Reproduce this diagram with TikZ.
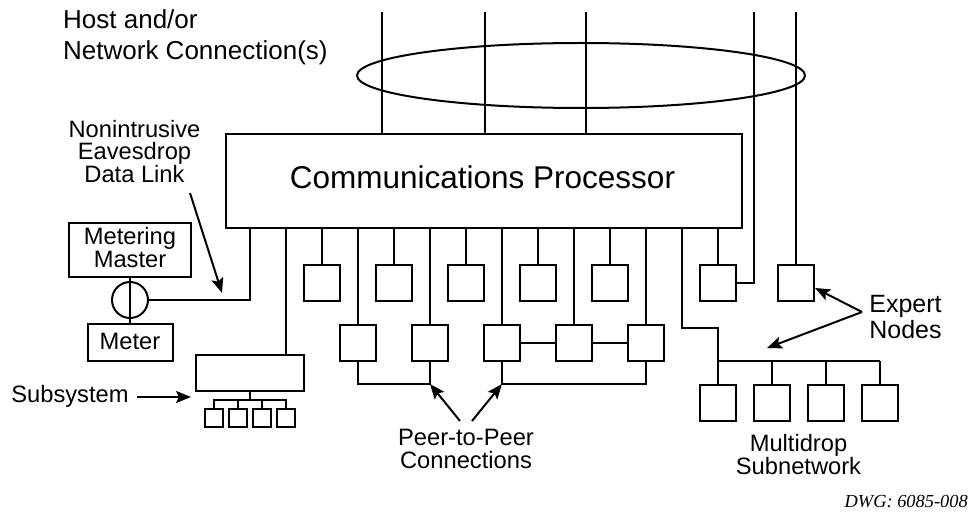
\documentclass[tikz,border=0pt]{standalone}
\usepackage{fontspec}
\setmainfont{Liberation Sans}
\newfontfamily\serifit{Liberation Serif}
\usetikzlibrary{arrows.meta,shapes.geometric}
\tikzset{
  wire/.style={line width=2pt},
  unit/.style={draw, line width=2pt, inner sep=0pt, minimum width=36pt, minimum height=36pt},
  tiny/.style={draw, line width=2pt, inner sep=0pt, minimum width=18pt, minimum height=18pt},
  lbl/.style={anchor=base, inner sep=0pt, font=\fontsize{23.7pt}{28pt}\selectfont},
  biglbl/.style={anchor=base west, inner sep=0pt, font=\fontsize{26pt}{31pt}\selectfont},
  arr/.style={line width=2pt, -{Stealth[length=15pt,width=12pt,inset=3pt]}}
}
\begin{document}
\begin{tikzpicture}[x=1pt,y=-1pt]
\useasboundingbox (0,0) rectangle (974,513);

% host / network connections
\node[biglbl] (host1) at (63,29) {Host and/or};
\node[biglbl] (host2) at (63,60) {Network Connection(s)};
\node[draw, ellipse, wire, inner sep=0pt, minimum width=448pt, minimum height=65pt] (net) at (581,75.5) {};

% communications processor
\node[draw, wire, inner sep=0pt, minimum width=516pt, minimum height=94pt] (proc) at (484,181) {};
\node[anchor=base, inner sep=0pt, font=\fontsize{31.5pt}{36pt}\selectfont] (proclbl) at (482.5,189) {Communications Processor};

\foreach \x [count=\i] in {382,485,586} {
  \coordinate (h\i) at (\x,12);
  \draw[wire] (h\i) -- (h\i |- proc.north);
}

% first row of nodes
\foreach \x [count=\i] in {322,394,466,538,610} {
  \node[unit] (u\i) at (\x,283) {};
  \draw[wire] (u\i.north) -- (u\i.north |- proc.south);
}

% second row of nodes with peer-to-peer links
\foreach \x [count=\i] in {358,430,502,574,646} {
  \node[unit] (l\i) at (\x,343) {};
  \draw[wire] (l\i.north) -- (l\i.north |- proc.south);
}
\draw[wire] (l3.east) -- (l4.west) (l4.east) -- (l5.west);
\coordinate (p1) at (430,384);
\coordinate (p2) at (502,384);
\draw[wire] (l1.south) |- (p1) -- (l2.south);
\draw[wire] (l3.south) -- (p2) -| (l5.south);

\node[lbl] (peer1) at (466,445) {Peer-to-Peer};
\node[lbl] (peer2) at (466,468) {Connections};
\coordinate (pa) at (460,421);
\coordinate (pb) at (472,421);
\draw[arr] (pa) -- (p1);
\draw[arr] (pb) -- (p2);

% expert nodes
\node[unit] (x1) at (718,283) {};
\node[unit] (x2) at (796,283) {};
\coordinate (h4) at (754,12);
\coordinate (h5) at (796,12);
\draw[wire] (h4) |- (x1.east);
\draw[wire] (h5) -- (x2.north);
\draw[wire] (x1.north) -- (x1.north |- proc.south);

\node[lbl, font=\fontsize{25pt}{30pt}\selectfont] (exp1) at (905.5,312) {Expert};
\node[lbl, font=\fontsize{25pt}{30pt}\selectfont] (exp2) at (905.5,338) {Nodes};
\coordinate (xe) at (862,312);
\coordinate (xt1) at (815,288);
\coordinate (xt2) at (767,348);
\draw[arr] (xe) -- (xt1);
\draw[arr] (xe) -- (xt2);

% multidrop subnetwork
\foreach \x [count=\i] in {718,772,826,880} {
  \node[unit] (m\i) at (\x,403) {};
}
\coordinate (mtap) at (682,228);
\coordinate (mbend) at (682,328);
\coordinate (mbus) at (880,361);
\draw[wire] (mtap) -- (mbend) -| (m1.north);
\draw[wire] (m1.north |- mbus) -- (mbus);
\foreach \i in {2,3,4} {
  \draw[wire] (m\i.north) -- (m\i.north |- mbus);
}
\node[lbl] (md1) at (798.5,451) {Multidrop};
\node[lbl] (md2) at (798.5,474) {Subnetwork};

% subsystem
\node[draw, wire, inner sep=0pt, minimum width=108pt, minimum height=36pt] (sub) at (250,373) {};
\coordinate (stap) at (286,228);
\draw[wire] (stap) -- (stap |- sub.north);
\foreach \x [count=\i] in {214,238,262,286} {
  \node[tiny] (s\i) at (\x,418) {};
}
\coordinate (sbus) at (250,400);
\draw[wire] (sub.south) -- (sbus);
\draw[wire] (s1.north) |- (sbus) -| (s4.north);
\draw[wire] (s2.north) -- (s2.north |- sbus);
\draw[wire] (s3.north) -- (s3.north |- sbus);

\node[lbl] (sublbl) at (70,402) {Subsystem};
\coordinate (sa) at (137,397);
\coordinate (sb) at (191,397);
\draw[arr] (sa) -- (sb);

% metering
\node[draw, wire, inner sep=0pt, minimum width=122pt, minimum height=54pt] (mm) at (130,250) {};
\node[lbl] (mm1) at (130,244) {Metering};
\node[lbl] (mm2) at (130,267) {Master};
\node[draw, wire, circle, inner sep=0pt, minimum size=36pt] (tap) at (130,300) {};
\node[draw, wire, inner sep=0pt, minimum width=85pt, minimum height=37pt] (meter) at (130,342.5) {};
\node[lbl] (meterlbl) at (130,349) {Meter};
\draw[wire] (mm.south) -- (meter.north);
\coordinate (etap) at (250,228);
\draw[wire] (tap.east) -| (etap);

% eavesdrop label
\node[lbl] (ev1) at (134.5,138) {Nonintrusive};
\node[lbl] (ev2) at (134.5,160) {Eavesdrop};
\node[lbl] (ev3) at (134.5,183) {Data Link};
\coordinate (da) at (190,193);
\coordinate (db) at (222,293);
\draw[arr] (da) -- (db);

% drawing number
\node[anchor=base east, inner sep=0pt, font=\serifit\itshape\fontsize{18.4pt}{22pt}\selectfont] (dwg) at (968,507) {DWG: 6085-008};
\end{tikzpicture}
\end{document}
